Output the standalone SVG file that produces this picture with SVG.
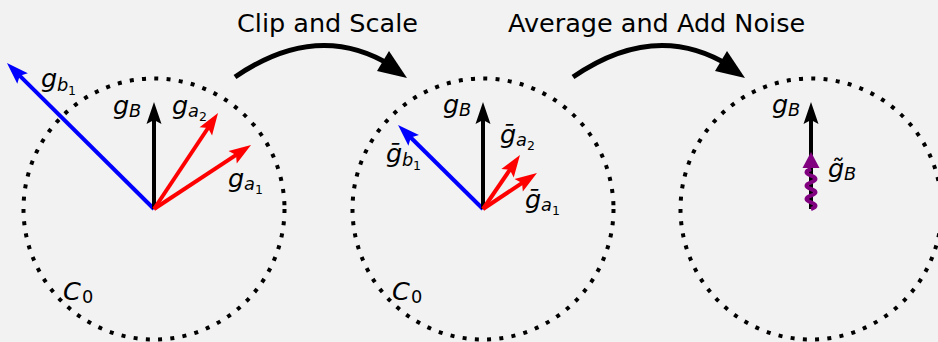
<svg xmlns="http://www.w3.org/2000/svg" width="938" height="342" viewBox="0 0 938 342">
<style>
.bg{fill:#f2f2f2}
.ring{fill:none;stroke:#000;stroke-width:4;stroke-dasharray:4 8.3}
.vec{stroke-width:4;fill:none;stroke-linecap:butt}
.k{stroke:#000;marker-end:url(#hk)}
.r{stroke:#ff0000;marker-end:url(#hr)}
.b{stroke:#0000ff;marker-end:url(#hb)}
.t{font-family:"DejaVu Sans","Liberation Sans",sans-serif;font-size:25.5px;fill:#000}
.m{font-family:"DejaVu Sans","Liberation Sans",sans-serif;font-style:italic;font-size:25.5px;fill:#000}
.s{font-size:17.8px}
.ss{font-size:12.5px;font-style:normal}
.sd{font-size:17.8px;font-style:normal}
.curve{fill:none;stroke:#000;stroke-width:5}
</style>
<defs>
<marker id="hk" markerUnits="userSpaceOnUse" orient="auto" overflow="visible" refX="0" refY="0"><path d="M15,0 L-7,-7.5 L-3,0 L-7,7.5 Z" fill="#000"/></marker>
<marker id="hr" markerUnits="userSpaceOnUse" orient="auto" overflow="visible" refX="0" refY="0"><path d="M15,0 L-7,-7.5 L-3,0 L-7,7.5 Z" fill="#ff0000"/></marker>
<marker id="hb" markerUnits="userSpaceOnUse" orient="auto" overflow="visible" refX="0" refY="0"><path d="M15,0 L-7,-7.5 L-3,0 L-7,7.5 Z" fill="#0000ff"/></marker>
</defs>
<rect class="bg" x="0" y="0" width="938" height="342"/>

<g id="title-clip"><text class="t" x="237" y="32">Clip and Scale</text></g>
<g id="title-avg"><text class="t" x="508" y="32">Average and Add Noise</text></g>

<g id="panel1">
<circle class="ring" cx="154" cy="209" r="130.5"/>
<line class="vec b" x1="154" y1="209" x2="17.6" y2="73.6"/>
<line class="vec k" x1="154" y1="209" x2="154" y2="117"/>
<line class="vec r" x1="154" y1="209" x2="209.7" y2="125.5"/>
<line class="vec r" x1="154" y1="209" x2="238.5" y2="153.3"/>
<text class="m" x="41" y="87">g<tspan class="s" x="57" y="91">b</tspan><tspan class="ss" x="68" y="95">1</tspan></text>
<text class="m" x="113" y="114">g<tspan class="s" x="129" y="117">B</tspan></text>
<text class="m" x="172" y="114">g<tspan class="s" x="188" y="117">a</tspan><tspan class="ss" x="199" y="121">2</tspan></text>
<text class="m" x="228" y="187">g<tspan class="s" x="244" y="190">a</tspan><tspan class="ss" x="255" y="194">1</tspan></text>
<text class="m" x="63" y="300">C<tspan class="sd" x="82" y="303">0</tspan></text>
</g>

<g id="panel2">
<circle class="ring" cx="483" cy="209" r="130.5"/>
<line class="vec b" x1="483" y1="209" x2="408.7" y2="135.5"/>
<line class="vec k" x1="483" y1="209" x2="483" y2="117"/>
<line class="vec r" x1="483" y1="209" x2="511.5" y2="167.4"/>
<line class="vec r" x1="483" y1="209" x2="524.5" y2="181.3"/>
<text class="m" x="443" y="113">g<tspan class="s" x="459" y="116">B</tspan></text>
<text class="m" x="500" y="143">ḡ<tspan class="s" x="516" y="146">a</tspan><tspan class="ss" x="527" y="150">2</tspan></text>
<text class="m" x="386" y="162">ḡ<tspan class="s" x="402" y="166">b</tspan><tspan class="ss" x="413" y="170">1</tspan></text>
<text class="m" x="525" y="208">ḡ<tspan class="s" x="541" y="211">a</tspan><tspan class="ss" x="552" y="215">1</tspan></text>
<text class="m" x="392" y="300">C<tspan class="sd" x="411" y="303">0</tspan></text>
</g>

<g id="panel3">
<circle class="ring" cx="811" cy="209" r="130.5"/>
<line class="vec k" x1="811" y1="209" x2="811" y2="117"/>
<path d="M811,209 C817,207 817,204.5 811,202.3 C805,200 805,197.9 811,195.7 C817,193.5 817,191.2 811,189 C805,186.8 805,184.5 811,182.3 C817,180.1 817,177.9 811,175.7 C805,173.5 805,171.2 811,169" fill="none" stroke="#800080" stroke-width="4"/>
<path d="M811,152 L819.5,168 L802.5,168 Z" fill="#800080"/>
<text class="m" x="772" y="113">g<tspan class="s" x="788" y="116">B</tspan></text>
<text class="m" x="828" y="177">g̃<tspan class="s" x="844" y="180">B</tspan></text>
</g>

<g id="connectors">
<path class="curve" d="M235,77 Q318,20 392,66"/>
<path d="M407,78 L389,51 L377,71 Z" fill="#000"/>
<path class="curve" d="M573,77 Q656,20 730,66"/>
<path d="M745,78 L727,51 L715,71 Z" fill="#000"/>
</g>
</svg>
